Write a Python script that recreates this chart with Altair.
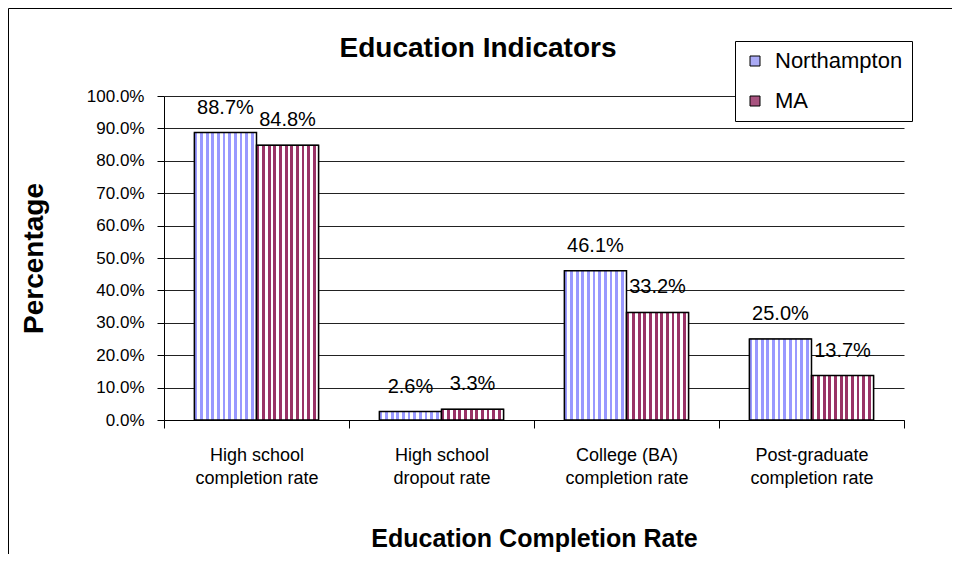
import altair as alt
import pandas as pd

categories = [
    "High school\ncompletion rate",
    "High school\ndropout rate",
    "College (BA)\ncompletion rate",
    "Post-graduate\ncompletion rate",
]
series_names = ["Northampton", "MA"]
northampton = [0.887, 0.026, 0.461, 0.250]
ma = [0.848, 0.033, 0.332, 0.137]
y_ticks = [0.0, 0.1, 0.2, 0.3, 0.4, 0.5, 0.6, 0.7, 0.8, 0.9, 1.0]

rows = []
for c, n, m in zip(categories, northampton, ma):
    rows.append({"category": c, "series": "Northampton", "value": n})
    rows.append({"category": c, "series": "MA", "value": m})
df = pd.DataFrame(rows)


def stripes(color, n):
    stops = []
    for k in range(n):
        a = k / n
        b = (k + 0.5) / n
        c = (k + 1) / n
        stops += [
            {"offset": a, "color": color},
            {"offset": b, "color": color},
            {"offset": b, "color": "#ffffff"},
            {"offset": c, "color": "#ffffff"},
        ]
    return {"gradient": "linear", "x1": 0, "y1": 0, "x2": 1, "y2": 0, "stops": stops}


grad_n = stripes("#9999ff", 11)
grad_ma = stripes("#993366", 11)

FONT = "Liberation Sans"

x_enc = alt.X(
    "category:N",
    sort=categories,
    scale=alt.Scale(paddingInner=0, paddingOuter=0),
    axis=alt.Axis(
        title="Education Completion Rate",
        labelExpr="split(datum.label, '\\n')",
        labelAngle=0,
        labelFontSize=18,
        labelLineHeight=23,
        labelPadding=18,
        labelColor="black",
        labelFont=FONT,
        tickBand="extent",
        tickSize=8,
        tickColor="black",
        domainColor="black",
        grid=False,
        titleFontSize=25,
        titleFont=FONT,
        titleFontWeight="bold",
        titleColor="black",
        titleBaseline="alphabetic",
        titleY=126,
    ),
)
xoff_enc = alt.XOffset(
    "series:N",
    sort=series_names,
    scale=alt.Scale(domain=series_names, paddingInner=0, paddingOuter=0.49),
)
y_enc = alt.Y(
    "value:Q",
    scale=alt.Scale(domain=[0, 1]),
    axis=alt.Axis(
        title="Percentage",
        format=".1%",
        values=y_ticks,
        labelFontSize=17,
        labelFont=FONT,
        labelColor="black",
        labelPadding=13,
        tickSize=7,
        tickColor="black",
        domainColor="black",
        grid=True,
        gridColor="#222222",
        gridOpacity=1,
        titleFontSize=28,
        titleFont=FONT,
        titleFontWeight="bold",
        titleColor="black",
        titleBaseline="alphabetic",
        titleX=-122,
        titleY=162,
    ),
)

border = (
    alt.Chart(pd.DataFrame({"k": [0]}))
    .mark_rect(fill="transparent", stroke="black", strokeWidth=1)
    .encode(
        x=alt.value(-155.5),
        x2=alt.value(1200),
        y=alt.value(-87.5),
        y2=alt.value(1200),
    )
)

base = alt.Chart(df)

legend_bars = base.mark_bar(stroke="black", strokeWidth=1).encode(
    x=x_enc,
    xOffset=xoff_enc,
    y=y_enc,
    color=alt.Color(
        "series:N",
        scale=alt.Scale(domain=series_names, range=["#aaaaf5", "#a8537f"]),
        legend=alt.Legend(
            title=None,
            orient="none",
            legendX=571,
            legendY=-55,
            fillColor="white",
            strokeColor="black",
            padding=9,
            symbolType="square",
            symbolSize=100,
            symbolStrokeColor="black",
            symbolStrokeWidth=1,
            labelFontSize=22,
            labelFont=FONT,
            labelColor="black",
            labelOffset=9,
            rowPadding=18,
        ),
    ),
)

hatched_bars = base.mark_bar(stroke="black", strokeWidth=1.5).encode(
    x=x_enc,
    xOffset=xoff_enc,
    y=y_enc,
    fill=alt.condition(
        alt.datum.series == "Northampton", alt.value(grad_n), alt.value(grad_ma)
    ),
)

labels = base.mark_text(
    dy=-19, baseline="alphabetic", align="center", fontSize=20, font=FONT, color="black"
).encode(
    x=x_enc,
    xOffset=xoff_enc,
    y=y_enc,
    text=alt.Text("value:Q", format=".1%"),
)

chart = (
    alt.layer(border, legend_bars, hatched_bars, labels)
    .properties(
        width=740,
        height=324,
        autosize=alt.AutoSizeParams(type="none"),
        padding={"left": 156, "top": 88, "right": 48, "bottom": 134},
        title=alt.Title(
            "Education Indicators",
            fontSize=28,
            font=FONT,
            fontWeight="bold",
            color="black",
            anchor="middle",
            frame="group",
            dx=-56,
            dy=81,
            baseline="alphabetic",
        ),
    )
    .configure(font=FONT)
    .configure_view(strokeWidth=0)
)

chart.save("out.html", embed_options={"renderer": "svg", "actions": False})
